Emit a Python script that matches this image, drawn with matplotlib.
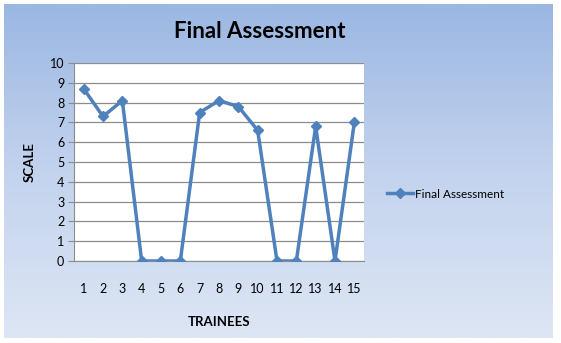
import numpy as np
import matplotlib
matplotlib.use("Agg")
import matplotlib.pyplot as plt
from matplotlib.colors import LinearSegmentedColormap

# Data
trainees = list(range(1, 16))
scores = [8.7, 7.3, 8.1, 0, 0, 0, 7.5, 8.1, 7.8, 6.6, 0, 0, 6.8, 0, 7.0]
yticks = list(range(0, 11))
title = "Final Assessment"
series_name = "Final Assessment"

plt.rcParams['font.family'] = ['Lato', 'DejaVu Sans']

W, H = 561, 343
fig = plt.figure(figsize=(W / 100, H / 100), dpi=100)
fig.patch.set_facecolor('white')

# gradient background
bg = fig.add_axes([4 / W, 1 - 338 / H, (553 - 4) / W, (338 - 4) / H])
cmap = LinearSegmentedColormap.from_list('g', ['#9BB7E2', '#C3D3EE', '#DDE6F4'])
grad = np.linspace(0, 1, 256).reshape(-1, 1)
bg.imshow(grad, aspect='auto', cmap=cmap, extent=[0, 1, 0, 1], origin='upper')
bg.set_axis_off()

ax = fig.add_axes([74 / W, 1 - 261 / H, (364 - 74) / W, (261 - 63) / H])
ax.set_facecolor('white')
color = '#4F81BD'
ax.plot(trainees, scores, color=color, lw=2.5, marker='D', ms=5.5,
        markerfacecolor=color, markeredgecolor=color, label=series_name, zorder=3)
ax.set_xlim(0.5, 15.5)
ax.set_ylim(0, 10)
ax.set_yticks(yticks)
ax.set_xticks(trainees)
ax.yaxis.grid(True, color='#8C8C8C', lw=0.9)
ax.set_axisbelow(True)
for s in ['top', 'right']:
    ax.spines[s].set_visible(False)
ax.spines['left'].set_color('#8C8C8C')
ax.spines['bottom'].set_color('#8C8C8C')
ax.tick_params(axis='y', length=4, color='#8C8C8C', labelsize=9, pad=3)
ax.tick_params(axis='x', length=0, labelsize=9, pad=16)

ax.set_ylabel('SCALE', fontsize=9.5, fontweight='bold', labelpad=10)
ax.set_xlabel('TRAINEES', fontsize=9.5, fontweight='bold', labelpad=15)

fig.text(260 / W, 1 - 31 / H, title, ha='center', va='center', fontsize=16, fontweight='bold')

leg = ax.legend(loc='center left', bbox_to_anchor=(382 / W, 1 - 194 / H),
                bbox_transform=fig.transFigure, frameon=False, fontsize=8.5,
                handlelength=2.2, handletextpad=0.2, borderaxespad=0)

fig.savefig('out.png', dpi=100)
